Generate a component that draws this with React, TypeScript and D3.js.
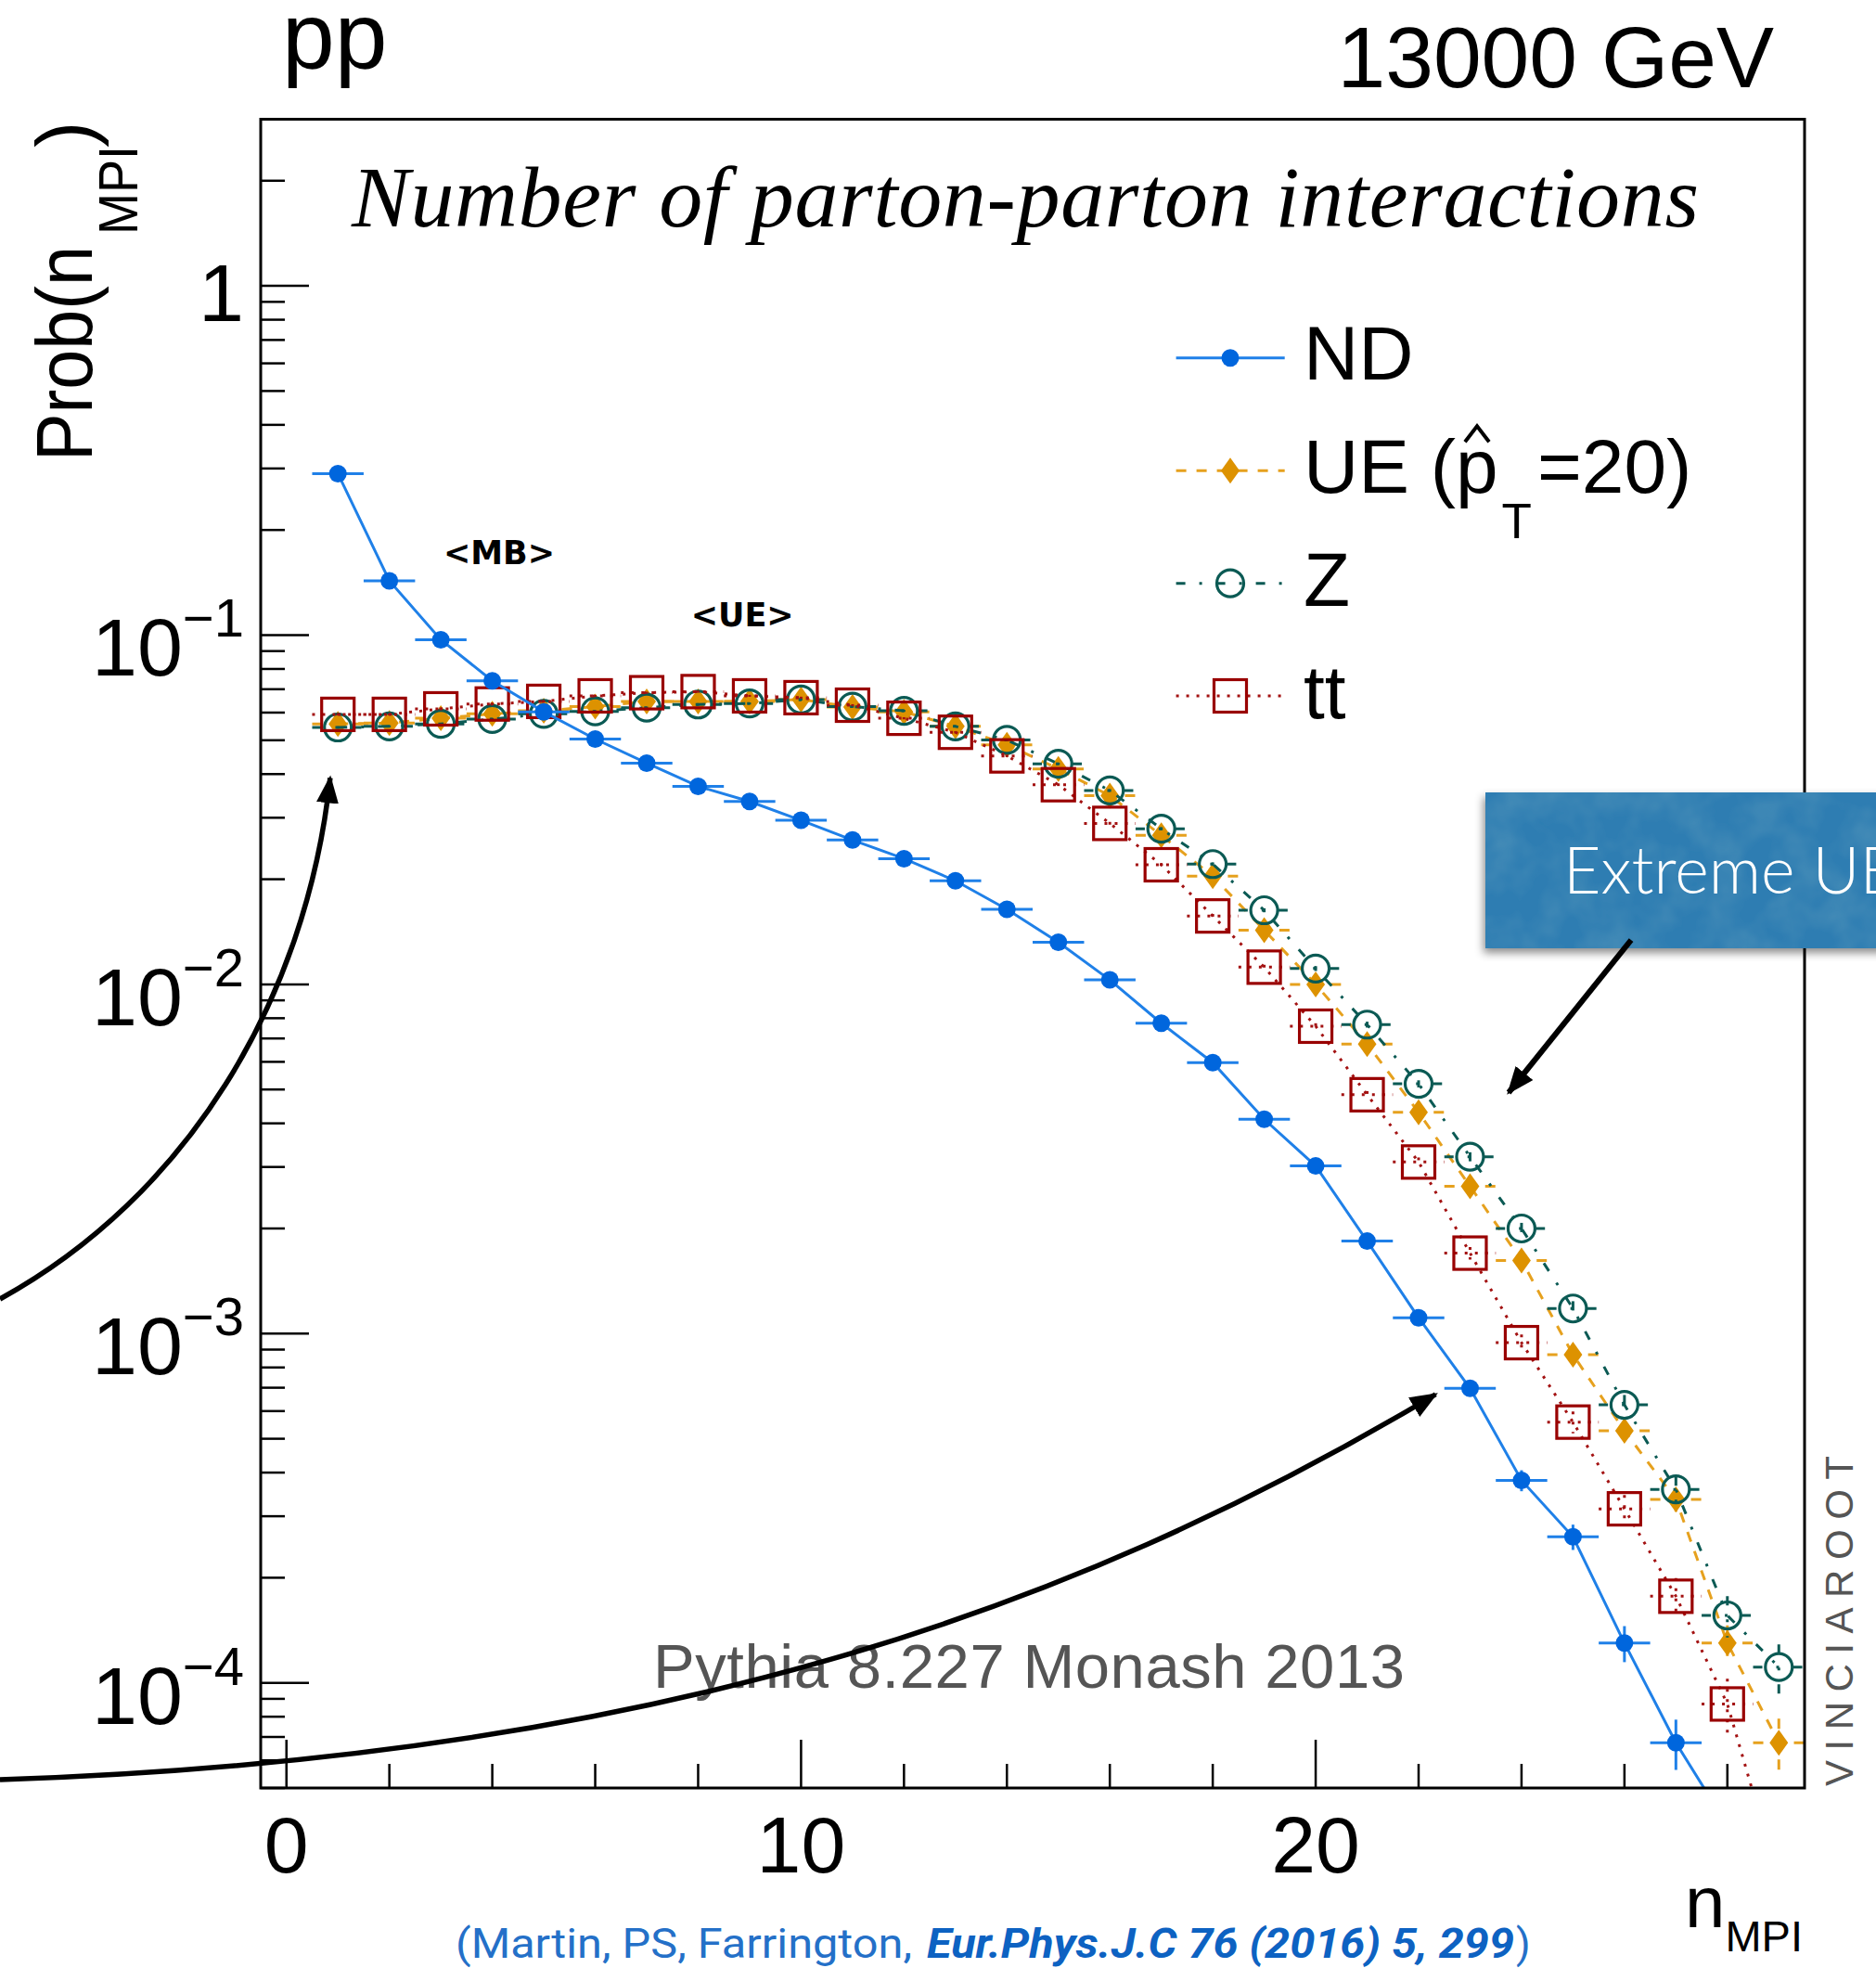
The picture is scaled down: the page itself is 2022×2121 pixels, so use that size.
import React, { useEffect } from 'react';
import * as d3 from 'd3';

// bin centres of the n_MPI histogram
const nMPI: number[] = [1, 2, 3, 4, 5, 6, 7, 8, 9, 10, 11, 12, 13, 14, 15, 16, 17, 18, 19, 20, 21, 22, 23, 24, 25, 26, 27, 28, 29];

// Prob(n_MPI) (log scale)
const probND: number[] = [
    0.29, 0.143, 0.097, 0.074, 0.0603, 0.0504, 0.043, 0.0369, 0.0334, 0.0295,
    0.0259, 0.0229, 0.0198, 0.0164, 0.0132, 0.0103, 0.00774, 0.00597, 0.00411, 0.00302,
    0.00184, 0.00111, 0.000697, 0.00038, 0.000262, 0.00013, 0.0000674, 0.000039,
];
const probUE: number[] = [
    0.0557, 0.056, 0.0578, 0.0595, 0.0607, 0.0624, 0.0646, 0.0646, 0.0646, 0.0654,
    0.0622, 0.0603, 0.0548, 0.0485, 0.0414, 0.0347, 0.0267, 0.0204, 0.0143, 0.01,
    0.00675, 0.0043, 0.00264, 0.00162, 0.00087, 0.000527, 0.000335, 0.00013, 0.0000674,
];
const probZ: number[] = [
    0.0544, 0.0548, 0.0557, 0.0575, 0.0595, 0.0605, 0.062, 0.0633, 0.0637, 0.0654,
    0.0624, 0.0607, 0.0548, 0.0501, 0.0428, 0.0359, 0.0279, 0.0221, 0.0163, 0.0111,
    0.00767, 0.00519, 0.00321, 0.002, 0.00118, 0.000625, 0.000358, 0.000156, 0.000111,
];
const probTT: number[] = [
    0.0593, 0.0593, 0.0615, 0.0635, 0.0646, 0.067, 0.0684, 0.0689, 0.067, 0.0662,
    0.063, 0.0578, 0.0527, 0.0451, 0.0373, 0.0289, 0.022, 0.0157, 0.0112, 0.00759,
    0.00483, 0.0031, 0.0017, 0.000942, 0.000558, 0.000315, 0.000177, 0.000087, 0.000027,
];

// rough sample sizes, set the length of the vertical (stat.) error bars
const eventCounts: number[] = [5.5e5, 5e5, 3.5e5, 3.5e5];

const yDecades: number[] = [0, -1, -2, -3, -4];
const xTickLabels: number[] = [0, 10, 20];

const W = 2022;
const H = 2121;
const plot = { left: 281, right: 1945, top: 128.5, bottom: 1927 };
const SANS = '"Liberation Sans", Arial, Helvetica, sans-serif';
const SERIF = '"Liberation Serif", "Times New Roman", serif';
const CITE = 'Roboto, "Open Sans", sans-serif';

type MarkerKind = 'dot' | 'diamond' | 'circle' | 'square';

interface Series {
    name: string;
    values: number[];
    events: number;
    marker: MarkerKind;
    markerColor: string;
    lineColor: string;
    dash?: string;
}

const series: Series[] = [
    { name: 'ND', values: probND, events: eventCounts[0], marker: 'dot', markerColor: '#0066dd', lineColor: '#1f80e8' },
    { name: 'UE', values: probUE, events: eventCounts[1], marker: 'diamond', markerColor: '#dd9200', lineColor: '#e6a11e', dash: '11 11' },
    { name: 'Z', values: probZ, events: eventCounts[2], marker: 'circle', markerColor: '#0b5a54', lineColor: '#0b5a54', dash: '10 15 3 15' },
    { name: 'tt', values: probTT, events: eventCounts[3], marker: 'square', markerColor: '#990000', lineColor: '#a31212', dash: '3 8' },
];

// drawing order: the blue ND curve ends up on top
const drawOrder = [1, 2, 3, 0];

const Marker: React.FC<{ kind: MarkerKind; cx: number; cy: number; color: string }> = ({ kind, cx, cy, color }) => {
    switch (kind) {
        case 'dot':
            return <circle cx={cx} cy={cy} r={9.5} fill={color} />;
        case 'diamond':
            return <path d={`M${cx},${cy - 14}L${cx + 10},${cy}L${cx},${cy + 14}L${cx - 10},${cy}Z`} fill={color} />;
        case 'circle':
            return <circle cx={cx} cy={cy} r={14.5} fill="none" stroke={color} strokeWidth={3.2} />;
        default:
            return <rect x={cx - 17.5} y={cy - 17.5} width={35} height={35} fill="none" stroke={color} strokeWidth={3.2} />;
    }
};

const App: React.FC = () => {
    useEffect(() => {
        document.body.style.margin = '0';
    }, []);

    const x = d3.scaleLinear().domain([-0.5, 29.5]).range([plot.left, plot.right]);
    const y = d3.scaleLog().domain([5e-5, 3]).range([plot.bottom, plot.top]);

    const yTicks = y.ticks().filter((t) => t >= 5e-5 && t <= 3);
    const isDecade = (t: number) => Math.abs(Math.log10(t) - Math.round(Math.log10(t))) < 1e-6;
    const xTicks = d3.range(0, 30, 2);

    const line = d3
        .line<[number, number]>()
        .x((d) => x(d[0]))
        .y((d) => y(d[1]));

    // annotation anchors (data coordinates)
    const mbArrowTip: [number, number] = [x(0.85), y(0.039)];
    const bigArrowTip: [number, number] = [x(22.33), y(6.7e-4)];
    const ueArrowFrom: [number, number] = [x(26.13), y(0.0134)];
    const ueArrowTip: [number, number] = [x(23.75), y(0.0049)];

    const legendRows = [385.7, 507.3, 628.7, 750];
    const legendX1 = 1267.6;
    const legendX2 = 1384.7;
    const legendMarkerX = 1326;
    const legendTextX = 1405;

    return (
        <svg width={W} height={H} style={{ position: 'absolute', left: 0, top: 0, background: '#fff' }} fontFamily={SANS}>
            <defs>
                <clipPath id="plotClip">
                    <rect x={plot.left} y={plot.top} width={plot.right - plot.left} height={plot.bottom - plot.top} />
                </clipPath>
                <marker id="arrowHead" viewBox="0 0 30 24" refX={27} refY={12} markerWidth={30} markerHeight={24} markerUnits="userSpaceOnUse" orient="auto">
                    <path d="M0,0L30,12L0,24Z" fill="#000" />
                </marker>
                <filter id="boxShadow" x="-10%" y="-20%" width="120%" height="150%">
                    <feDropShadow dx={-2} dy={5} stdDeviation={5} floodColor="#000" floodOpacity={0.45} />
                </filter>
                <filter id="paperNoise" x="0" y="0" width="100%" height="100%">
                    <feTurbulence type="fractalNoise" baseFrequency="0.025" numOctaves={3} seed={5} result="noise" />
                    <feColorMatrix in="noise" type="matrix" values="0 0 0 0 0.1  0 0 0 0 0.32  0 0 0 0 0.5  0 0 0 0.9 -0.32" result="tint" />
                    <feComposite in="tint" in2="SourceGraphic" operator="in" />
                </filter>
            </defs>

            {/* header texts */}
            <text x={304} y={74} fontSize={102}>pp</text>
            <text x={1912} y={94} fontSize={93} textAnchor="end">13000 GeV</text>

            {/* data */}
            <g clipPath="url(#plotClip)">
                {drawOrder.map((si) => {
                    const s = series[si];
                    const pts: [number, number][] = s.values.map((v, i) => [nMPI[i], v]);
                    return (
                        <g key={s.name}>
                            <path d={line(pts) ?? ''} fill="none" stroke={s.lineColor} strokeWidth={3} strokeDasharray={s.dash} />
                            {pts.map(([n, v]) => {
                                const e = Math.sqrt(v / s.events);
                                return (
                                    <g key={n} stroke={s.lineColor} strokeWidth={3} strokeDasharray={s.dash}>
                                        <line x1={x(n - 0.5)} x2={x(n + 0.5)} y1={y(v)} y2={y(v)} />
                                        <line x1={x(n)} x2={x(n)} y1={y(v + e)} y2={y(Math.max(v - e, 1e-7))} />
                                    </g>
                                );
                            })}
                            {pts.map(([n, v]) => (
                                <Marker key={n} kind={s.marker} cx={x(n)} cy={y(v)} color={s.markerColor} />
                            ))}
                        </g>
                    );
                })}
            </g>

            {/* frame and ticks */}
            <rect x={plot.left} y={plot.top} width={plot.right - plot.left} height={plot.bottom - plot.top} fill="none" stroke="#000" strokeWidth={3} />
            {yTicks.map((t) => (
                <line key={t} x1={plot.left} x2={plot.left + (isDecade(t) ? 52 : 26)} y1={y(t)} y2={y(t)} stroke="#000" strokeWidth={2.5} />
            ))}
            {xTicks.map((t) => (
                <line key={t} x1={x(t)} x2={x(t)} y1={plot.bottom} y2={plot.bottom - (t % 10 === 0 ? 52 : 26)} stroke="#000" strokeWidth={2.5} />
            ))}

            {/* tick labels */}
            {yDecades.map((e) => {
                const ty = y(Math.pow(10, e));
                if (e === 0) {
                    return (
                        <text key={e} x={263} y={ty + 38} fontSize={88} textAnchor="end">1</text>
                    );
                }
                return (
                    <text key={e} x={263} y={ty + 44} fontSize={88} textAnchor="end">
                        10<tspan fontSize={58} dy={-42}>{`\u2212${-e}`}</tspan>
                    </text>
                );
            })}
            {xTickLabels.map((t) => (
                <text key={t} x={x(t)} y={2018} fontSize={86} textAnchor="middle">{t}</text>
            ))}

            {/* axis titles */}
            <text x={1943} y={2077} fontSize={78} textAnchor="end">
                n<tspan fontSize={47} dy={26}>MPI</tspan>
            </text>
            <text transform="translate(99,497) rotate(-90)" fontSize={85} textLength={232} lengthAdjust="spacingAndGlyphs">Prob(n</text>
            <text transform="translate(148,253) rotate(-90)" fontSize={60} textLength={96} lengthAdjust="spacingAndGlyphs">MPI</text>
            <text transform="translate(99,159) rotate(-90)" fontSize={85}>)</text>

            {/* plot title */}
            <text x={379} y={244} fontSize={94} fontFamily={SERIF} fontStyle="italic" textLength={1452} lengthAdjust="spacing">
                Number of parton-parton interactions
            </text>

            {/* legend */}
            {series.map((s, i) => (
                <g key={s.name}>
                    <line x1={legendX1} x2={legendX2} y1={legendRows[i]} y2={legendRows[i]} stroke={s.lineColor} strokeWidth={3} strokeDasharray={s.dash} />
                    <Marker kind={s.marker} cx={legendMarkerX} cy={legendRows[i]} color={s.markerColor} />
                </g>
            ))}
            <text x={legendTextX} y={legendRows[0] + 23} fontSize={82}>ND</text>
            <text x={legendTextX} y={legendRows[1] + 24} fontSize={82}>
                UE (p<tspan fontSize={53} dx={4} dy={49}>T</tspan><tspan dx={6} dy={-49}>=20)</tspan>
            </text>
            <path d={`M1579,${legendRows[1] - 31}L1592,${legendRows[1] - 48}L1605,${legendRows[1] - 31}`} fill="none" stroke="#000" strokeWidth={4} />
            <text x={legendTextX} y={legendRows[2] + 24} fontSize={82}>Z</text>
            <text x={legendTextX} y={legendRows[3] + 24} fontSize={82}>tt</text>

            {/* in-frame notes */}
            <text x={x(3.05)} y={y(0.16)} fontSize={35} fontWeight="bold" fontFamily='"DejaVu Sans", sans-serif'>&lt;MB&gt;</text>
            <text x={x(7.86)} y={y(0.106)} fontSize={35} fontWeight="bold" fontFamily='"DejaVu Sans", sans-serif'>&lt;UE&gt;</text>
            <text x={704} y={1819} fontSize={67} fill="#555" textLength={810} lengthAdjust="spacing">Pythia 8.227 Monash 2013</text>

            {/* side + bottom credits */}
            <text transform="translate(1997,1925) rotate(-90)" fontSize={42} fill="#555" textLength={356} lengthAdjust="spacing">VINCIAROOT</text>
            <text x={491} y={2110} fontSize={45} fill="#2470c8" fontFamily={CITE} textLength={492} lengthAdjust="spacingAndGlyphs">
                (Martin, PS, Farrington,
            </text>
            <text x={999} y={2110} fontSize={45} fill="#0d62c2" fontWeight="bold" fontStyle="italic" fontFamily={CITE} textLength={633} lengthAdjust="spacingAndGlyphs">
                Eur.Phys.J.C 76 (2016) 5, 299
            </text>
            <text x={1634} y={2110} fontSize={45} fill="#2470c8" fontFamily={CITE}>)</text>

            {/* overlay annotation: Extreme UE box */}
            <rect x={1601} y={854} width={460} height={168} fill="#2f7db2" filter="url(#boxShadow)" />
            <rect x={1601} y={854} width={460} height={168} fill="#2f7db2" filter="url(#paperNoise)" />
            <text x={1685} y={963} fontSize={70} fill="#fff" fontFamily='Lato, "Open Sans", sans-serif' fontWeight={300}>Extreme UE</text>
            <line x1={ueArrowFrom[0]} y1={ueArrowFrom[1]} x2={ueArrowTip[0]} y2={ueArrowTip[1]} stroke="#000" strokeWidth={6} markerEnd="url(#arrowHead)" />

            {/* curved arrows */}
            <path
                d={`M0,1400C200,1290 330,1080 ${mbArrowTip[0]},${mbArrowTip[1]}`}
                fill="none"
                stroke="#000"
                strokeWidth={5.5}
                markerEnd="url(#arrowHead)"
            />
            <path
                d={`M0,1918C700,1895 1150,1740 ${bigArrowTip[0]},${bigArrowTip[1]}`}
                fill="none"
                stroke="#000"
                strokeWidth={5.5}
                markerEnd="url(#arrowHead)"
            />
        </svg>
    );
};

export default App;
